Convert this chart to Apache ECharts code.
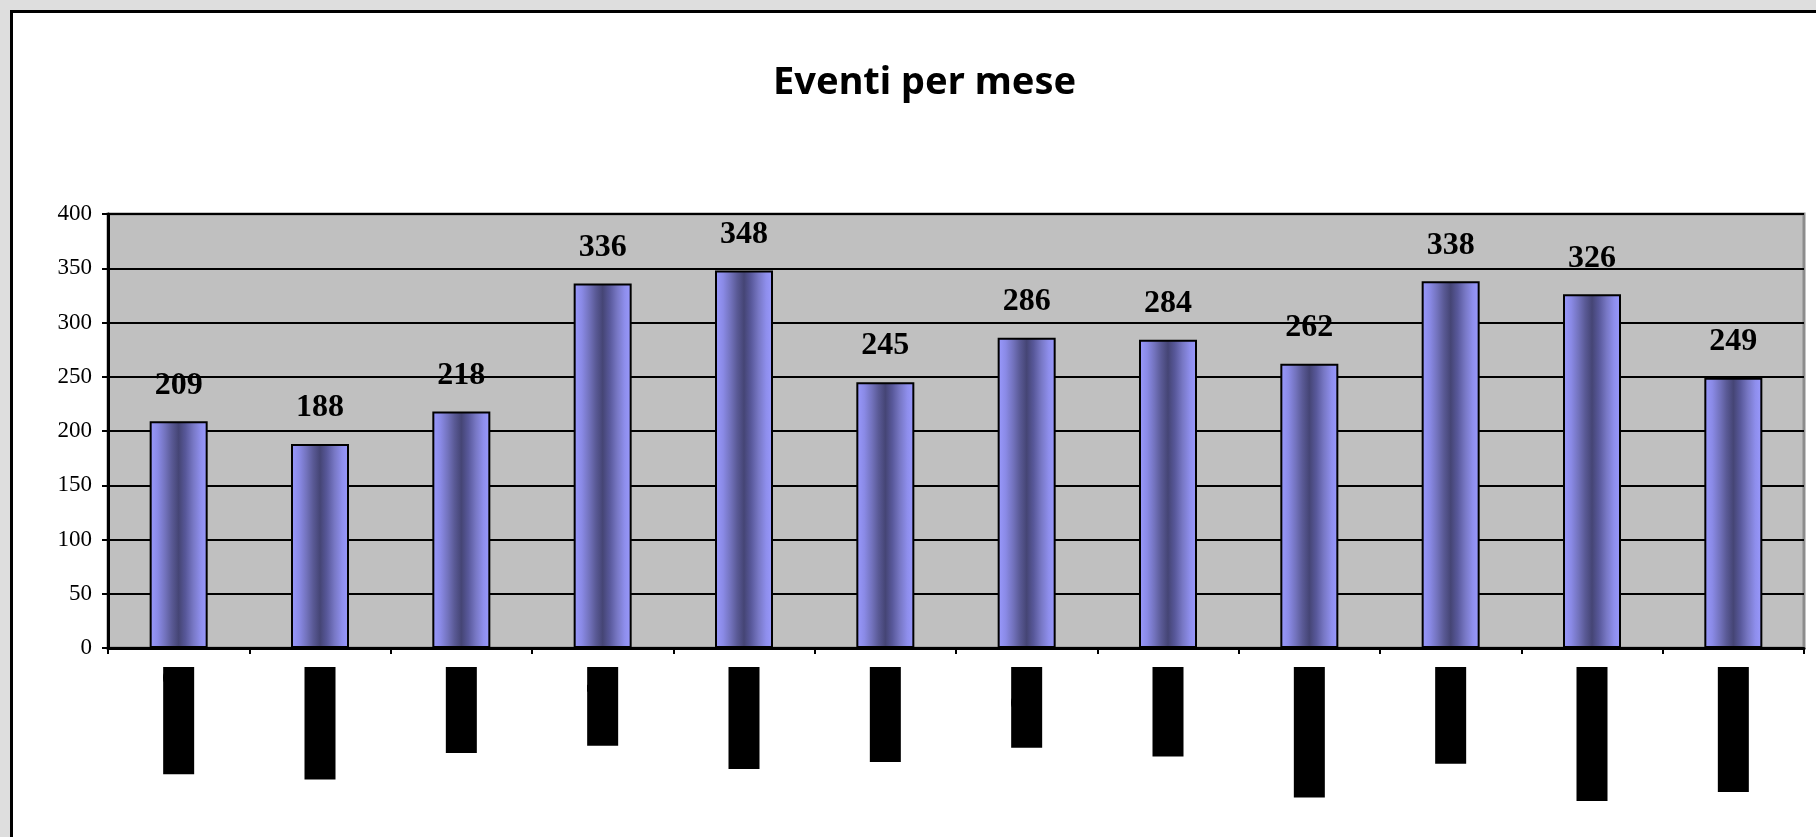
<!DOCTYPE html>
<html>
<head>
<meta charset="utf-8">
<script src="https://cdn.jsdelivr.net/npm/echarts@6/dist/echarts.min.js"></script>
<style>
  html, body { margin: 0; padding: 0; width: 1816px; height: 837px; overflow: hidden; background: #dedede; }
  #frame { position: absolute; left: 10px; top: 10px; width: 2000px; height: 1000px; border: 3px solid #000; background: #fff; }
  #chart { position: absolute; left: 0; top: 0; width: 1816px; height: 837px; }
</style>
</head>
<body>
<div id="frame"></div>
<div id="chart"></div>
<script>
// Monthly event counts
const titleText = 'Eventi per mese';
const months = ['gennaio', 'febbraio', 'marzo', 'aprile', 'maggio', 'giugno',
                'luglio', 'agosto', 'settembre', 'ottobre', 'novembre', 'dicembre'];
const events = [209, 188, 218, 336, 348, 245, 286, 284, 262, 338, 326, 249];
const yMin = 0, yMax = 400, yStep = 50;

// Cylinder-like shading across each bar
const barShade = new echarts.graphic.LinearGradient(0, 0, 1, 0, [
  { offset: 0.00, color: '#9a9aff' },
  { offset: 0.14, color: '#8a8ae6' },
  { offset: 0.27, color: '#7272bc' },
  { offset: 0.38, color: '#5a5a96' },
  { offset: 0.50, color: '#454575' },
  { offset: 0.62, color: '#58589a' },
  { offset: 0.75, color: '#7777c4' },
  { offset: 0.88, color: '#8e8eec' },
  { offset: 1.00, color: '#9a9aff' }
]);

const chart = echarts.init(document.getElementById('chart'), null, { renderer: 'canvas' });
chart.setOption({
  animation: false,
  title: {
    text: titleText,
    left: 768,
    top: 59,
    textStyle: {
      fontFamily: "'Comic Sans MS', 'Noto Sans', sans-serif",
      fontWeight: 'bold',
      fontSize: 38,
      color: '#000'
    }
  },
  grid: {
    left: 108, right: 12, top: 214, bottom: 189,
    show: true,
    backgroundColor: '#c0c0c0',
    borderColor: '#8c8c8c',
    borderWidth: 3
  },
  xAxis: {
    type: 'category',
    data: months,
    boundaryGap: true,
    axisLine: { show: true, lineStyle: { color: '#000', width: 3 } },
    axisTick: { show: true, alignWithLabel: false, length: 6, lineStyle: { color: '#000', width: 2 } },
    axisLabel: {
      interval: 0,
      rotate: -90,
      margin: 19,
      fontFamily: "'Liberation Serif', serif",
      fontSize: 32,
      lineHeight: 21,
      color: '#000',
      backgroundColor: '#000',
      padding: [3, 3, 7, 3]
    },
    splitLine: { show: false }
  },
  yAxis: {
    type: 'value',
    min: yMin,
    max: yMax,
    interval: yStep,
    axisLine: { show: true, lineStyle: { color: '#000', width: 3 } },
    axisTick: { show: true, length: 6, lineStyle: { color: '#000', width: 2 } },
    axisLabel: {
      margin: 16,
      fontFamily: "'Liberation Serif', serif",
      fontSize: 23,
      color: '#000'
    },
    splitLine: { show: true, lineStyle: { color: '#000', width: 2 } }
  },
  series: [{
    type: 'bar',
    data: events,
    barWidth: 58,
    itemStyle: { color: barShade, borderColor: '#000', borderWidth: 2 },
    label: {
      show: true,
      position: 'top',
      distance: 20,
      fontFamily: "'Liberation Serif', serif",
      fontWeight: 'bold',
      fontSize: 32,
      color: '#000'
    }
  }]
});
</script>
</body>
</html>
